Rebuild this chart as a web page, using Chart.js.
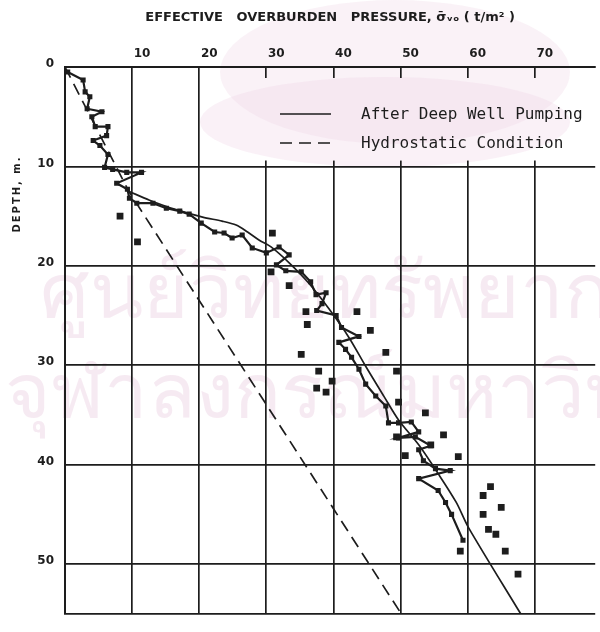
<!DOCTYPE html>
<html>
<head>
<meta charset="utf-8">
<script src="https://cdn.jsdelivr.net/npm/chart.js@4.4.1/dist/chart.umd.min.js"></script>
<style>
  html, body { margin: 0; padding: 0; background: #fff; }
  #wrap { width: 600px; height: 632px; }
</style>
</head>
<body>
<div id="wrap"><canvas id="c" width="600" height="632"></canvas></div>
<script>
// Effective overburden pressure (t/m²) against depth (m)
const pressureTicks = [0, 10, 20, 30, 40, 50, 60, 70];
const depthTicks = [0, 10, 20, 30, 40, 50];

// Hydrostatic condition (dashed)
const hydroPressure = [0, 9.5, 50.1];
const hydroDepth    = [0, 12.5, 55.0];

// After deep well pumping (solid)
const pumpedPressure = [9.5, 12.6, 16.3, 20.5, 23.4, 25.5, 27.2, 28.9, 30.7, 33.4, 36.4, 39.3, 42.3, 44.8, 47.5, 49.7, 52.7, 55.6, 58.3, 60.1, 67.9];
const pumpedDepth    = [12.5, 13.4, 14.3, 15.1, 15.5, 15.9, 16.6, 17.4, 18.1, 19.7, 21.8, 24.3, 27.2, 30.1, 33.1, 35.5, 38.0, 40.9, 43.8, 46.3, 55.0];

// Continuous measured profile
const profilePressure = [0.4, 2.7, 3.0, 3.7, 3.3, 5.5, 4.0, 4.5, 6.4, 6.2, 4.2, 5.2, 6.4, 5.9, 7.1, 9.2, 11.4, 7.7, 9.3, 9.6, 10.7, 13.1, 15.1, 17.1, 18.5, 20.3, 22.3, 23.7, 24.9, 26.4, 27.9, 30.0, 31.9, 33.4, 31.5, 32.9, 35.2, 36.6, 37.4, 38.9, 38.3, 37.5, 40.4, 41.2, 43.8, 40.8, 41.8, 42.7, 43.8, 44.8, 46.3, 47.8, 48.2, 49.7, 51.6, 52.7, 49.7, 52.2, 54.5, 52.7, 53.4, 55.2, 57.4, 52.7, 55.6, 56.7, 57.6, 59.3];
const profileDepth    = [0.5, 1.3, 2.5, 3.0, 4.2, 4.5, 5.0, 6.0, 6.0, 6.9, 7.4, 7.9, 8.8, 10.1, 10.3, 10.6, 10.6, 11.7, 12.3, 13.2, 13.7, 13.7, 14.2, 14.5, 14.8, 15.7, 16.6, 16.7, 17.2, 16.9, 18.2, 18.7, 18.1, 18.9, 19.9, 20.5, 20.6, 21.6, 22.9, 22.7, 23.8, 24.5, 25.0, 26.2, 27.1, 27.7, 28.4, 29.2, 30.4, 31.9, 33.1, 34.1, 35.8, 35.8, 35.7, 36.7, 37.3, 37.2, 38.1, 38.5, 39.6, 40.4, 40.6, 41.4, 42.6, 43.8, 45.0, 47.6];

// Individual sample points
const samplePressure = [8.2, 10.8, 30.9, 30.7, 33.4, 35.9, 36.1, 43.5, 45.5, 35.2, 47.8, 37.8, 39.8, 37.5, 38.9, 49.4, 49.7, 53.7, 49.4, 56.4, 54.5, 50.7, 58.6, 63.4, 62.3, 65.0, 62.3, 63.1, 64.2, 58.9, 65.6, 67.5];
const sampleDepth    = [15.0, 17.6, 16.7, 20.6, 22.0, 24.6, 25.9, 24.6, 26.5, 28.9, 28.7, 30.6, 31.6, 32.3, 32.7, 30.6, 33.7, 34.8, 37.2, 37.0, 38.0, 39.1, 39.2, 42.2, 43.1, 44.3, 45.0, 46.5, 47.0, 48.7, 48.7, 51.0];

const zip = (xs, ys) => xs.map((x, i) => ({ x: x, y: ys[i] }));

const ink = '#1d1d1d';
const tickFont = { family: '"DejaVu Sans", sans-serif', size: 12, weight: 'bold' };

// Paper backdrop with the faint institutional watermark
function paintBackdrop(ctx) {
  ctx.save();
  ctx.fillStyle = '#ffffff';
  ctx.fillRect(0, 0, 600, 632);
  ctx.fillStyle = 'rgba(245, 226, 238, 0.45)';
  ctx.beginPath();
  ctx.ellipse(395, 72, 175, 72, 0, 0, Math.PI * 2);
  ctx.fill();
  ctx.fillStyle = 'rgba(240, 208, 228, 0.30)';
  ctx.beginPath();
  ctx.ellipse(385, 122, 185, 45, 0, 0, Math.PI * 2);
  ctx.fill();
  ctx.fillStyle = 'rgba(232, 200, 222, 0.38)';
  ctx.font = '78px "Noto Sans", "DejaVu Sans", sans-serif';
  ctx.textBaseline = 'alphabetic';
  ctx.fillText('ศูนย์วิทยทรัพยากร', 40, 318);
  ctx.fillText('จุฬาลงกรณ์มหาวิทยาลัย', 5, 418);
  ctx.restore();
}

const paperPlugin = {
  id: 'paper',
  beforeDraw(chart) {
    paintBackdrop(chart.ctx);
  },
  beforeDatasetsDraw(chart) {
    const ctx = chart.ctx;
    const x = chart.scales.x, y = chart.scales.y;
    // clear grid lines behind the key panel
    const left = x.getPixelForValue(22.5), top = y.getPixelForValue(1.1);
    const bottom = y.getPixelForValue(9.4);
    ctx.save();
    ctx.beginPath();
    ctx.rect(left, top, 600 - left, bottom - top);
    ctx.clip();
    paintBackdrop(ctx);
    ctx.restore();

    // key entries
    const entries = chart.data.datasets.slice(0, 2);
    ctx.save();
    ctx.font = '16px "DejaVu Sans Mono", monospace';
    ctx.textBaseline = 'middle';
    entries.forEach((ds, i) => {
      const cy = 114 + i * 29;
      ctx.strokeStyle = ds.borderColor;
      ctx.lineWidth = ds.borderWidth;
      ctx.setLineDash(ds.borderDash || []);
      ctx.beginPath();
      ctx.moveTo(280, cy);
      ctx.lineTo(331, cy);
      ctx.stroke();
      ctx.setLineDash([]);
      ctx.fillStyle = ink;
      ctx.fillText(ds.label, 361, cy + 1);
    });
    ctx.restore();
  },
  afterDraw(chart) {
    const ctx = chart.ctx;
    ctx.save();
    ctx.translate(17, 194);
    ctx.rotate(-Math.PI / 2);
    ctx.font = 'bold 10px "DejaVu Sans", sans-serif';
    ctx.letterSpacing = '2px';
    ctx.fillStyle = ink;
    ctx.textAlign = 'center';
    ctx.textBaseline = 'middle';
    ctx.fillText('DEPTH, m.', 0, 0);
    ctx.restore();
  }
};

new Chart(document.getElementById('c'), {
  type: 'scatter',
  data: {
    datasets: [
      {
        label: 'After Deep Well Pumping',
        data: zip(pumpedPressure, pumpedDepth),
        showLine: true, borderColor: ink, borderWidth: 1.7,
        pointRadius: 0, tension: 0.3
      },
      {
        label: 'Hydrostatic Condition',
        data: zip(hydroPressure, hydroDepth),
        showLine: true, borderColor: ink, borderWidth: 1.7, borderDash: [12, 7],
        pointRadius: 0
      },
      {
        label: 'Profile',
        data: zip(profilePressure, profileDepth),
        showLine: true, borderColor: ink, borderWidth: 2.2,
        pointStyle: 'rect', pointRadius: 3.6, pointBackgroundColor: ink, pointBorderWidth: 0
      },
      {
        label: 'Samples',
        data: zip(samplePressure, sampleDepth),
        showLine: false,
        pointStyle: 'rect', pointRadius: 4.8, pointBackgroundColor: ink, pointBorderWidth: 0
      }
    ]
  },
  options: {
    responsive: false,
    animation: false,
    layout: { padding: { top: 0, left: 0, right: 0, bottom: 4 } },
    plugins: { legend: { display: false }, tooltip: { enabled: false } },
    scales: {
      x: {
        type: 'linear', position: 'top', min: 0, max: 79,
        afterBuildTicks: s => { s.ticks = pressureTicks.map(v => ({ value: v })); },
        afterFit: s => { s.height = 67; },
        grid: { color: ink, lineWidth: 1.7, drawTicks: false },
        border: { color: ink, width: 2 },
        ticks: {
          color: ink, font: tickFont, padding: 6, labelOffset: 10, maxRotation: 0,
          callback: v => (v === 0 ? '' : String(v))
        },
        title: {
          display: true,
          text: 'EFFECTIVE   OVERBURDEN   PRESSURE, σ̄ᵥₒ ( t/m² )',
          color: ink,
          font: { family: '"DejaVu Sans", sans-serif', size: 13, weight: 'bold' },
          padding: { top: 10, bottom: 0 }
        }
      },
      y: {
        type: 'linear', reverse: true, min: 0, max: 55,
        afterBuildTicks: s => { s.ticks = depthTicks.concat([55]).map(v => ({ value: v })); },
        afterFit: s => { s.width = 65; },
        grid: { color: ink, lineWidth: 1.7, drawTicks: false },
        border: { color: ink, width: 2 },
        ticks: {
          color: ink, font: tickFont, padding: 11, labelOffset: -3,
          callback: v => (depthTicks.includes(v) ? String(v) : '')
        }
      }
    }
  },
  plugins: [paperPlugin]
});
</script>
</body>
</html>
